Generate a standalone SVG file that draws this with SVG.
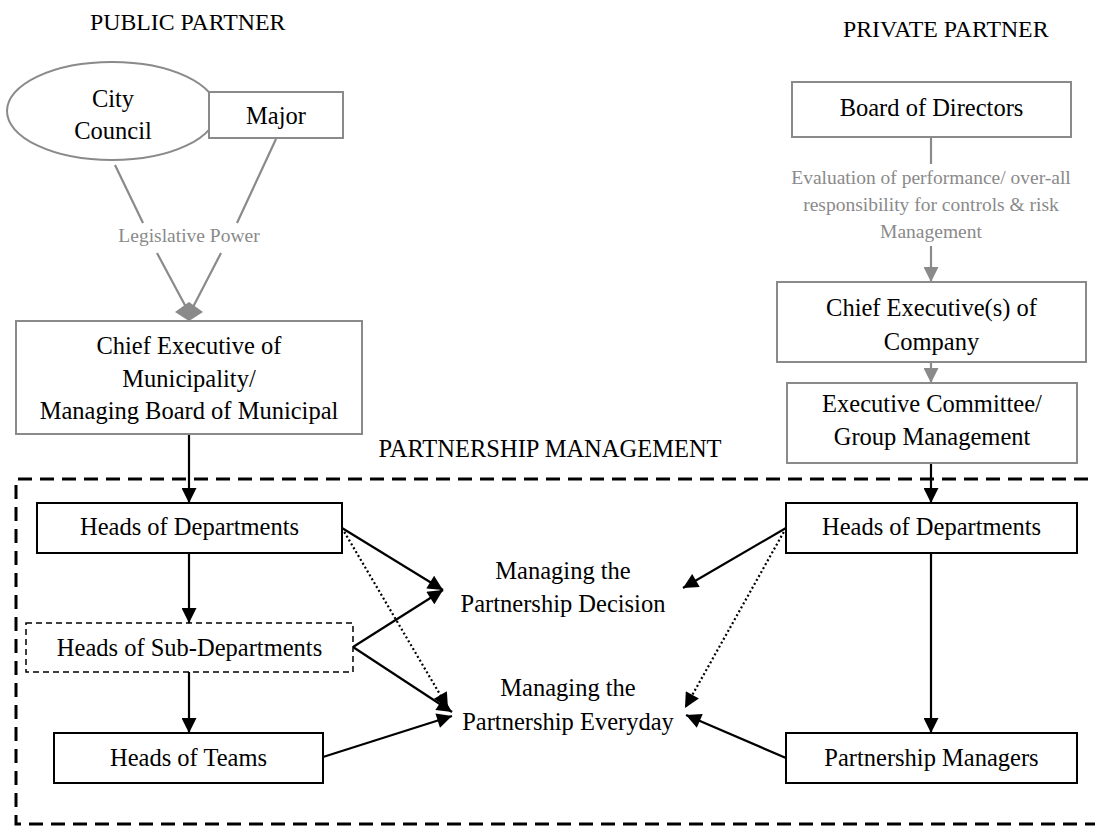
<svg xmlns="http://www.w3.org/2000/svg" width="1095" height="826" viewBox="0 0 1095 826">
<style>
  text { font-family: "Liberation Serif", "Times New Roman", serif; fill: #000; }
  .t { font-size: 24.5px; text-anchor: middle; }
  .h { font-size: 23.8px; }
  .g { font-size: 19.5px; text-anchor: middle; fill: #8a8a8a; }
  .gbox { fill: #fff; stroke: #8a8a8a; stroke-width: 2; }
  .bbox { fill: #fff; stroke: #000; stroke-width: 2; }
  .dbox { fill: #fff; stroke: #000; stroke-width: 1.5; stroke-dasharray: 6 4; }
  .c { fill: none; stroke: #000; stroke-width: 2.2; }
  .dot { fill: none; stroke: #000; stroke-width: 2.2; stroke-dasharray: 2 2.5; }
  .gc { fill: none; stroke: #8a8a8a; stroke-width: 2.2; }
</style>
<defs>
  <marker id="ab" viewBox="0 0 14 14" markerUnits="userSpaceOnUse" markerWidth="16" markerHeight="15" refX="14" refY="7" orient="auto">
    <path d="M0,0 L14,7 L0,14 z" fill="#000"/>
  </marker>
  <marker id="ag" viewBox="0 0 14 14" markerUnits="userSpaceOnUse" markerWidth="15" markerHeight="15" refX="14" refY="7" orient="auto">
    <path d="M0,0 L14,7 L0,14 z" fill="#8a8a8a"/>
  </marker>
</defs>

<!-- headings -->
<text class="h" x="90" y="30">PUBLIC PARTNER</text>
<text class="h" x="843" y="37">PRIVATE PARTNER</text>
<text class="t" x="550" y="457">PARTNERSHIP MANAGEMENT</text>

<!-- partnership management frame -->
<path d="M1110,479 L16,479 L16,824 L1110,824" fill="none" stroke="#000" stroke-width="3" stroke-dasharray="14 8"/>

<!-- connectors -->
<g id="connectors">
  <!-- legislative power -->
  <line class="gc" x1="115" y1="165" x2="143" y2="223"/>
  <line class="gc" x1="157" y1="253" x2="187" y2="309"/>
  <line class="gc" x1="276" y1="139" x2="237" y2="223"/>
  <line class="gc" x1="221" y1="253" x2="192" y2="309"/>
  <polygon points="189,302 203,312 189,321 175,312" fill="#8a8a8a"/>
  <!-- private upper chain -->
  <line class="gc" x1="931" y1="137" x2="931" y2="164"/>
  <line class="gc" x1="931" y1="246" x2="931" y2="282" marker-end="url(#ag)"/>
  <line class="gc" x1="931" y1="362" x2="931" y2="383" marker-end="url(#ag)"/>
  <!-- public lower chain -->
  <line class="c" x1="189" y1="434" x2="189" y2="503" marker-end="url(#ab)"/>
  <line class="c" x1="189" y1="553" x2="189" y2="623" marker-end="url(#ab)"/>
  <line class="c" x1="189" y1="672" x2="189" y2="733" marker-end="url(#ab)"/>
  <line class="c" x1="342" y1="528" x2="443" y2="590" marker-end="url(#ab)"/>
  <line class="dot" x1="342" y1="528" x2="448" y2="708" marker-end="url(#ab)"/>
  <line class="c" x1="353" y1="647" x2="443" y2="590" marker-end="url(#ab)"/>
  <line class="c" x1="353" y1="647" x2="452" y2="712" marker-end="url(#ab)"/>
  <line class="c" x1="323" y1="757" x2="452" y2="716" marker-end="url(#ab)"/>
  <!-- private lower chain -->
  <line class="c" x1="931" y1="463" x2="931" y2="503" marker-end="url(#ab)"/>
  <line class="c" x1="931" y1="553" x2="931" y2="733" marker-end="url(#ab)"/>
  <line class="c" x1="786" y1="528" x2="683" y2="588" marker-end="url(#ab)"/>
  <line class="dot" x1="786" y1="528" x2="685" y2="708" marker-end="url(#ab)"/>
  <line class="c" x1="786" y1="758" x2="686" y2="715" marker-end="url(#ab)"/>
</g>

<!-- connector labels -->
<text class="g" x="189" y="242">Legislative Power</text>
<text class="g" x="931" y="184">Evaluation of performance/ over-all</text>
<text class="g" x="931" y="211">responsibility for controls &amp; risk</text>
<text class="g" x="931" y="238">Management</text>

<!-- public nodes -->
<g id="city-council">
  <ellipse cx="112" cy="111" rx="105" ry="49" class="gbox"/>
  <text class="t" x="113" y="107">City</text>
  <text class="t" x="113" y="139">Council</text>
</g>
<g id="major">
  <rect x="209" y="92" width="134" height="46" class="gbox"/>
  <text class="t" x="276" y="124">Major</text>
</g>
<g id="chief-executive-municipality">
  <rect x="16" y="321" width="346" height="113" class="gbox"/>
  <text class="t" x="189" y="354">Chief Executive of</text>
  <text class="t" x="189" y="387">Municipality/</text>
  <text class="t" x="189" y="419">Managing Board of Municipal</text>
</g>
<g id="public-heads-departments">
  <rect x="37" y="503" width="305" height="50" class="bbox"/>
  <text class="t" x="189.5" y="535">Heads of Departments</text>
</g>
<g id="heads-sub-departments">
  <rect x="26" y="623" width="327" height="49" class="dbox"/>
  <text class="t" x="189.5" y="656">Heads of Sub-Departments</text>
</g>
<g id="heads-teams">
  <rect x="54" y="733" width="269" height="50" class="bbox"/>
  <text class="t" x="188.5" y="766">Heads of Teams</text>
</g>

<!-- centre labels -->
<g id="managing-decision">
  <text class="t" x="563" y="579">Managing the</text>
  <text class="t" x="563" y="612">Partnership Decision</text>
</g>
<g id="managing-everyday">
  <text class="t" x="568" y="696">Managing the</text>
  <text class="t" x="568" y="730">Partnership Everyday</text>
</g>

<!-- private nodes -->
<g id="board-directors">
  <rect x="792" y="82" width="279" height="55" class="gbox"/>
  <text class="t" x="931.5" y="116">Board of Directors</text>
</g>
<g id="chief-executive-company">
  <rect x="777" y="282" width="309" height="80" class="gbox"/>
  <text class="t" x="931.5" y="316">Chief Executive(s) of</text>
  <text class="t" x="931.5" y="350">Company</text>
</g>
<g id="executive-committee">
  <rect x="787" y="383" width="290" height="80" class="gbox"/>
  <text class="t" x="932" y="412">Executive Committee/</text>
  <text class="t" x="932" y="445">Group Management</text>
</g>
<g id="private-heads-departments">
  <rect x="786" y="503" width="291" height="50" class="bbox"/>
  <text class="t" x="931.5" y="535">Heads of Departments</text>
</g>
<g id="partnership-managers">
  <rect x="786" y="733" width="291" height="50" class="bbox"/>
  <text class="t" x="931.5" y="766">Partnership Managers</text>
</g>
</svg>
